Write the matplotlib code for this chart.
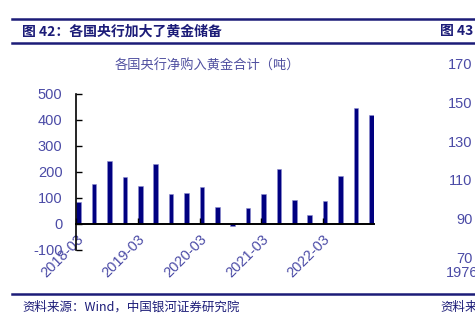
import numpy as np
import matplotlib.pyplot as plt
from matplotlib.lines import Line2D

plt.rcParams['font.family'] = ['Liberation Sans', 'Noto Sans CJK SC', 'DejaVu Sans']

# quarterly net purchases of gold by central banks, tonnes (2018Q1 - 2022Q4)
quarters = ['2018-03', '2018-06', '2018-09', '2018-12',
            '2019-03', '2019-06', '2019-09', '2019-12',
            '2020-03', '2020-06', '2020-09', '2020-12',
            '2021-03', '2021-06', '2021-09', '2021-12',
            '2022-03', '2022-06', '2022-09', '2022-12']
net_buy = [85, 153, 241, 179, 145, 229, 113, 117, 140, 64,
           -9, 60, 116, 210, 91, 33, 89, 184, 445, 418]
yticks = [-100, 0, 100, 200, 300, 400, 500]
right_yticks = [70, 90, 110, 130, 150, 170]

navy = '#1c1c78'
tick_blue = '#4b4ba6'
bar_color = '#000080'
cjk = ['Noto Sans CJK SC', 'DejaVu Sans']

fig = plt.figure(figsize=(4.75, 3.29), dpi=100)

ax = fig.add_axes([0.1606, 0.2413, 0.626, 0.473])
# spine moved first: set_position rebuilds the ticks
for s in ['top', 'right']:
    ax.spines[s].set_visible(False)
ax.spines['bottom'].set_position(('data', 0))
ax.spines['bottom'].set_linewidth(1.4)
ax.spines['left'].set_linewidth(1.2)

x = np.arange(len(net_buy))
ax.bar(x, net_buy, width=0.3, color=bar_color, edgecolor='#8c8cd0', linewidth=0.4)
ax.set_xlim(-0.15, len(net_buy) - 0.85)
ax.set_ylim(-100, 500)

ax.tick_params(axis='y', direction='in', length=4, width=1, colors='black',
               labelcolor=tick_blue, labelsize=10.5, pad=10)
ax.tick_params(axis='x', direction='in', length=4, width=1, colors='black',
               labelcolor=tick_blue, labelsize=10.5, pad=6, labelrotation=45)

ax.set_yticks(yticks)
ax.set_yticklabels([str(v) for v in yticks])
tick_idx = list(range(0, len(quarters), 4))
ax.set_xticks([i - 0.15 for i in tick_idx])
ax.set_xticklabels([quarters[i] for i in tick_idx], rotation=45,
                   ha='right', va='top', rotation_mode='anchor')

fig.text(0.437, 1 - 66 / 329, '各国央行净购入黄金合计（吨）', ha='center', va='center',
         fontsize=9.5, color='#5050a0', family=cjk)

# neighbouring panel, cut off at the right edge
ax2 = fig.add_axes([1.006, 1 - 257.7 / 329, 0.3, (257.7 - 63.4) / 329])
ax2.set_ylim(70, 170)
ax2.set_yticks(right_yticks)
ax2.set_xticks([])
ax2.tick_params(axis='y', length=0, labelcolor=tick_blue, labelsize=10.5, pad=4)
for s in ax2.spines.values():
    s.set_visible(False)
fig.text(445.7 / 475, 1 - 273 / 329, '1976', ha='left', va='center',
         fontsize=10.5, color=tick_blue)

# header and footer rules
for yy in [19, 43, 294.3]:
    fig.add_artist(Line2D([12 / 475, 1], [1 - yy / 329] * 2, color=navy, lw=1.8))

fig.text(22 / 475, 1 - 31 / 329, '图 42：各国央行加大了黄金储备', ha='left', va='center',
         fontsize=10, fontweight='bold', color=navy, family=cjk)
fig.text(440 / 475, 1 - 31 / 329, '图 43：', ha='left', va='center',
         fontsize=10, fontweight='bold', color=navy, family=cjk)
fig.text(22 / 475, 1 - 307.3 / 329, '资料来源：Wind，中国银河证券研究院', ha='left',
         va='center', fontsize=9, style='italic', color=navy, family=cjk)
fig.text(440 / 475, 1 - 307.3 / 329, '资料来源', ha='left', va='center',
         fontsize=9, style='italic', color=navy, family=cjk)

fig.savefig('out.png', dpi=100)
